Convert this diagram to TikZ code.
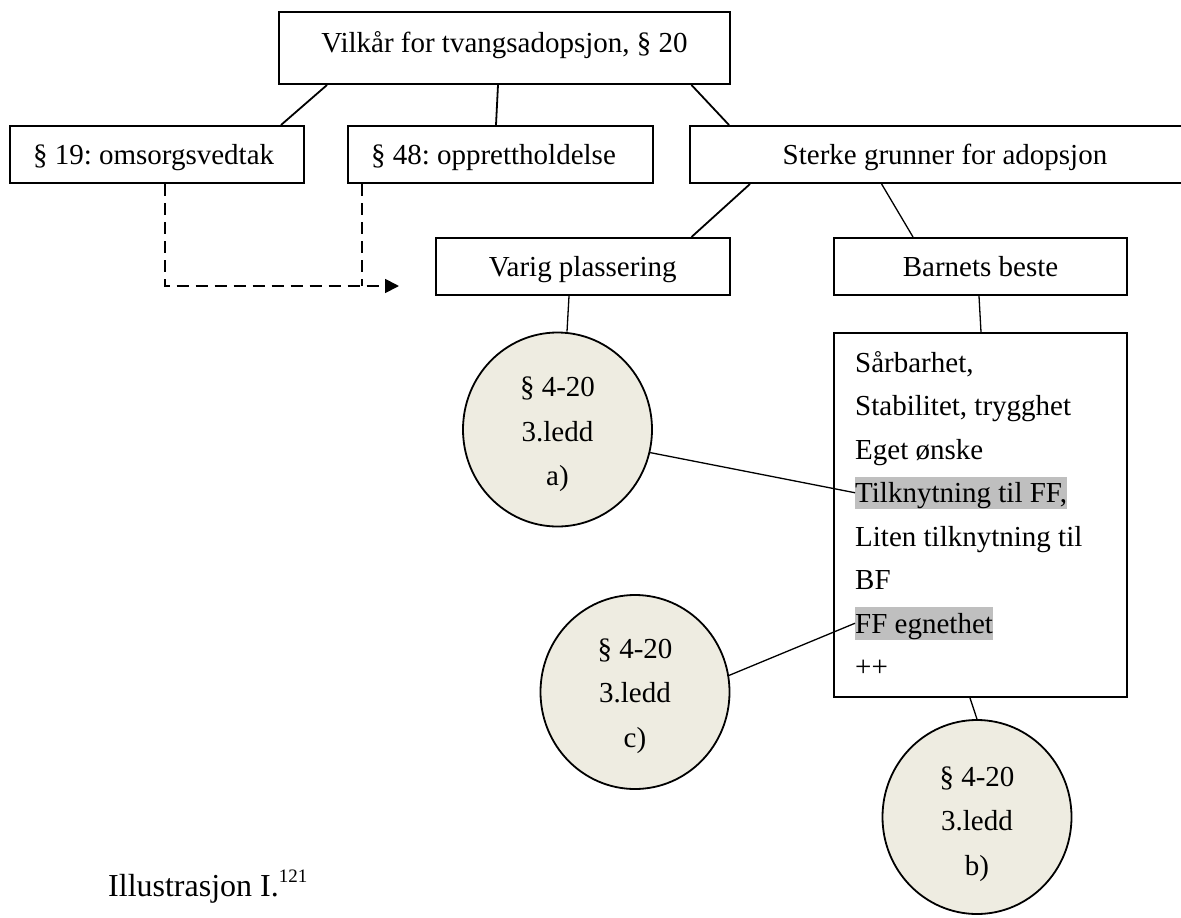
\documentclass[tikz,border=0pt]{standalone}
\usepackage{fontspec}
\setmainfont{Liberation Serif}
\usetikzlibrary{arrows.meta,shapes.geometric}
\definecolor{circfill}{HTML}{EEECE1}
\definecolor{hl}{HTML}{BFBFBF}
\frenchspacing
\begin{document}
\begin{tikzpicture}[x=1pt,y=-1pt,
  bx/.style={draw,line width=2pt,inner ysep=0pt,inner xsep=0pt,minimum height=57pt,text height=20pt,text depth=0pt,font=\fontsize{29}{34}\selectfont\frenchspacing},
  lbx/.style={bx,inner xsep=23pt,align=flush left},
  conn/.style={line width=1.8pt},
  thinconn/.style={line width=1.3pt},
  ell/.style={ellipse,draw,line width=1.8pt,fill=circfill,minimum width=189pt,minimum height=194pt,inner sep=0pt,align=center,font=\fontsize{29}{44.5}\selectfont},
  ln/.style={anchor=base west,inner sep=0pt,font=\fontsize{29}{34}\selectfont\frenchspacing},
  hln/.style={ln,fill=hl,text height=26pt,text depth=6.5pt},
  dsh/.style={line width=1.8pt,dash pattern=on 12pt off 7pt}
]
\useasboundingbox (0,0) rectangle (1181,918);
\clip (0,0) rectangle (1181,918);
\fill[white] (0,0) rectangle (1181,918);

\node[bx,minimum width=451pt,minimum height=72pt,text depth=12pt] (top) at (504.5,48) {Vilkår for tvangsadopsjon, § 20};
\node[lbx,text width=247.5pt] (s19) at (156.75,154.5) {§ 19: omsorgsvedtak};
\node[lbx,text width=259pt] (s48) at (500.5,154.5) {§ 48: opprettholdelse};
\node[bx,minimum width=510pt] (sterke) at (945,154.5) {Sterke grunner for adopsjon};
\node[bx,minimum width=293.5pt] (varig) at (582.75,266.5) {Varig plassering};
\node[bx,minimum width=293pt] (barn) at (980.5,266.5) {Barnets beste};
\node[draw,line width=2pt,minimum width=293pt,minimum height=364pt,inner sep=0pt] (txt) at (980.5,515) {};

\node[ln] (l1) at (855,372) {Sårbarhet,};
\node[ln] (l2) at (855,415.5) {Stabilitet, trygghet};
\node[ln] (l3) at (855,459) {Eget ønske};
\node[hln] (tilk) at (855,502.5) {Tilknytning til FF,};
\node[ln] (l5) at (855,546) {Liten tilknytning til};
\node[ln] (l6) at (855,589.5) {BF};
\node[hln] (ffe) at (855,633) {FF egnethet};
\node[ln] (l8) at (855,676.5) {++};

\node[ell] (a) at (557.5,429.5) {\rule{0pt}{30pt}§ 4-20\\3.ledd\\a)};
\node[ell] (c) at (635,692) {\rule{0pt}{28pt}§ 4-20\\3.ledd\\c)};
\node[ell] (b) at (977,817) {\rule{0pt}{34pt}§ 4-20\\3.ledd\\b)};

\draw[conn] (327,0 |- top.south) -- (281,0 |- s19.north);
\draw[conn] (498,0 |- top.south) -- (496,0 |- s48.north);
\draw[conn] (691.5,0 |- top.south) -- (729,0 |- sterke.north);
\draw[conn] (750,0 |- sterke.south) -- (691.5,0 |- varig.north);
\draw[thinconn] (881.6,0 |- sterke.south) -- (913,0 |- barn.north);
\draw[thinconn] (979,0 |- barn.south) -- (981,0 |- txt.north);
\draw[thinconn] (569,0 |- varig.south) -- (567,0 |- a.north);
\draw[thinconn] (a.-14) -- (tilk.west);
\draw[thinconn] (c.10) -- (ffe.west);
\draw[thinconn] (970,0 |- txt.south) -- (b.north);

\coordinate (j) at (361.6,286);
\coordinate (tip) at (399,286);
\draw[dsh] (361.6,0 |- s48.south) -- (j);
\draw[dsh,-{Triangle[length=14pt,width=14pt]}] (164.6,0 |- s19.south) |- (tip);

\node[anchor=base west,inner sep=0pt,font=\fontsize{32}{38}\selectfont] (cap) at (108,896) {Illustrasjon I.\raisebox{14pt}{\fontsize{19}{19}\selectfont 121}};
\end{tikzpicture}
\end{document}
